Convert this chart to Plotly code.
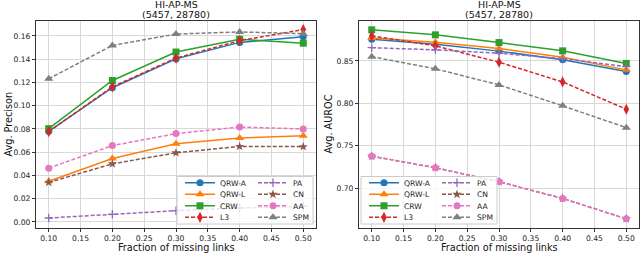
import plotly.graph_objects as go

# ---------------- data ----------------
fractions = [0.10, 0.20, 0.30, 0.40, 0.50]
methods = ["QRW-A", "QRW-L", "CRW", "L3", "PA", "CN", "AA", "SPM"]

prec_qrw_a = [0.078, 0.1155, 0.1403, 0.1545, 0.1594]
prec_qrw_l = [0.035, 0.0546, 0.0672, 0.0723, 0.0742]
prec_crw = [0.0803, 0.1217, 0.1462, 0.1572, 0.1538]
prec_l3 = [0.0778, 0.1163, 0.141, 0.156, 0.1655]
prec_pa = [0.0034, 0.0066, 0.0097, 0.012, 0.0135]
prec_cn = [0.034, 0.050, 0.0595, 0.065, 0.0648]
prec_aa = [0.0463, 0.0657, 0.076, 0.0817, 0.080]
prec_spm = [0.1232, 0.1519, 0.1617, 0.1635, 0.162]

auc_qrw_a = [0.8755, 0.8695, 0.8615, 0.8512, 0.8374]
auc_qrw_l = [0.877, 0.872, 0.8645, 0.8544, 0.8394]
auc_crw = [0.8866, 0.8807, 0.8716, 0.8618, 0.847]
auc_l3 = [0.8795, 0.8677, 0.8485, 0.8252, 0.793]
auc_pa = [0.8655, 0.863, 0.859, 0.8527, 0.8433]
auc_cn = [0.7377, 0.724, 0.7075, 0.6879, 0.6638]
auc_aa = [0.7377, 0.724, 0.7075, 0.6879, 0.6638]
auc_spm = [0.855, 0.8406, 0.8217, 0.797, 0.7713]

x_ticks = [0.10, 0.15, 0.20, 0.25, 0.30, 0.35, 0.40, 0.45, 0.50]
prec_ticks = [0.00, 0.02, 0.04, 0.06, 0.08, 0.10, 0.12, 0.14, 0.16]
auc_ticks = [0.70, 0.75, 0.80, 0.85]

title_line1 = "HI-AP-MS"
title_line2 = "(5457, 28780)"

prec_series = [prec_qrw_a, prec_qrw_l, prec_crw, prec_l3, prec_pa, prec_cn, prec_aa, prec_spm]
auc_series = [auc_qrw_a, auc_qrw_l, auc_crw, auc_l3, auc_pa, auc_cn, auc_aa, auc_spm]

# ---------------- styles ----------------
colors = ["#1f77b4", "#ff7f0e", "#2ca02c", "#d62728", "#9467bd", "#8c564b", "#e377c2", "#7f7f7f"]
symbols = ["circle", "triangle-up", "square", "diamond-tall", "cross-thin", "star", "circle", "triangle-up"]
msizes = [7, 8, 7, 8, 6, 7, 7, 8]
dashes = ["solid", "solid", "solid", "4px,2px", "4px,2px", "4px,2px", "4px,2px", "4px,2px"]
# legend row for each method (two entries per row: left column, right column)
row_of = [0, 1, 2, 3, 0, 1, 2, 3]

FONT = "DejaVu Sans"
W, H = 640, 253
fig = go.Figure()

legend_names = ["legend"] + ["legend%d" % k for k in range(2, 9)]
panels = [
    dict(series=prec_series, xa="x", ya="y", legs=legend_names[0:4], lx=180),
    dict(series=auc_series, xa="x2", ya="y2", legs=legend_names[4:8], lx=364),
]

for p in panels:
    for i, name in enumerate(methods):
        mk = dict(symbol=symbols[i], size=msizes[i], color=colors[i], line=dict(width=0))
        if symbols[i] == "cross-thin":
            mk["line"] = dict(width=1.3, color=colors[i])
        fig.add_trace(go.Scatter(
            x=fractions, y=p["series"][i], name=name, mode="lines+markers",
            line=dict(color=colors[i], width=1.5, dash=dashes[i]),
            marker=mk, xaxis=p["xa"], yaxis=p["ya"],
            legend=p["legs"][row_of[i]],
        ))

axis_common = dict(
    showline=True, mirror=True, linecolor="#333333", linewidth=1,
    showgrid=True, gridcolor="#d8d8d8", gridwidth=1,
    ticks="outside", ticklen=3, tickcolor="#333333", tickwidth=1,
    tickfont=dict(family=FONT, size=7.6, color="#222222"),
    zeroline=False,
)

xl0, xl1 = 36 / W, 316 / W
xr0, xr1 = 359 / W, 639 / W
yb, yt = 1 - 228 / H, 1 - 21 / H

fig.update_layout(
    width=W, height=H,
    margin=dict(l=0, r=0, t=0, b=0),
    paper_bgcolor="white", plot_bgcolor="white",
    showlegend=True,
    xaxis=dict(domain=[xl0, xl1], range=[0.08, 0.52], tickvals=x_ticks, tickformat=".2f", anchor="y", **axis_common),
    yaxis=dict(domain=[yb, yt], range=[-0.0052, 0.1729], tickvals=prec_ticks, tickformat=".2f", anchor="x", **axis_common),
    xaxis2=dict(domain=[xr0, xr1], range=[0.08, 0.52], tickvals=x_ticks, tickformat=".2f", anchor="y2", **axis_common),
    yaxis2=dict(domain=[yb, yt], range=[0.653, 0.897], tickvals=auc_ticks, tickformat=".2f", anchor="x2", **axis_common),
)

row_y = [182.7, 194.3, 205.7, 217.3]
leg_layout = {}
for p in panels:
    for r, lname in enumerate(p["legs"]):
        leg_layout[lname] = dict(
            orientation="h", entrywidth=28, entrywidthmode="pixels",
            bgcolor="rgba(0,0,0,0)", borderwidth=0, itemwidth=30,
            font=dict(family=FONT, size=7.6, color="#222222"),
            x=p["lx"] / W, y=1 - row_y[r] / H, xanchor="left", yanchor="middle",
        )
fig.update_layout(**leg_layout)

# legend frames
for (x0, x1) in [(177, 313), (361, 497)]:
    fig.add_shape(type="rect", xref="paper", yref="paper",
                  x0=x0 / W, x1=x1 / W, y0=1 - 224 / H, y1=1 - 176.5 / H,
                  fillcolor="rgba(255,255,255,0.8)", line=dict(color="#cccccc", width=1), layer="above")

ann_font = dict(family=FONT, size=9.5, color="#111111")
for cx in [(36 + 316) / 2 / W, (359 + 639) / 2 / W]:
    fig.add_annotation(text=title_line1, x=cx, y=1 - 4 / H, xref="paper", yref="paper",
                       showarrow=False, xanchor="center", yanchor="middle", font=ann_font)
    fig.add_annotation(text=title_line2, x=cx, y=1 - 14 / H, xref="paper", yref="paper",
                       showarrow=False, xanchor="center", yanchor="middle", font=ann_font)
    fig.add_annotation(text="Fraction of missing links", x=cx, y=1 - 247.5 / H, xref="paper", yref="paper",
                       showarrow=False, xanchor="center", yanchor="middle",
                       font=dict(family=FONT, size=9.7, color="#111111"))

ycenter = 1 - ((21 + 228) / 2) / H
fig.add_annotation(text="Avg. Precison", x=8 / W, y=ycenter, xref="paper", yref="paper", textangle=-90,
                   showarrow=False, xanchor="center", yanchor="middle", font=dict(family=FONT, size=9.7, color="#111111"))
fig.add_annotation(text="Avg. AUROC", x=328 / W, y=ycenter, xref="paper", yref="paper", textangle=-90,
                   showarrow=False, xanchor="center", yanchor="middle", font=dict(family=FONT, size=9.7, color="#111111"))

fig.write_html("out.html", config={"displayModeBar": False},
               post_script="document.body.style.margin='0';document.body.style.overflow='hidden';")
